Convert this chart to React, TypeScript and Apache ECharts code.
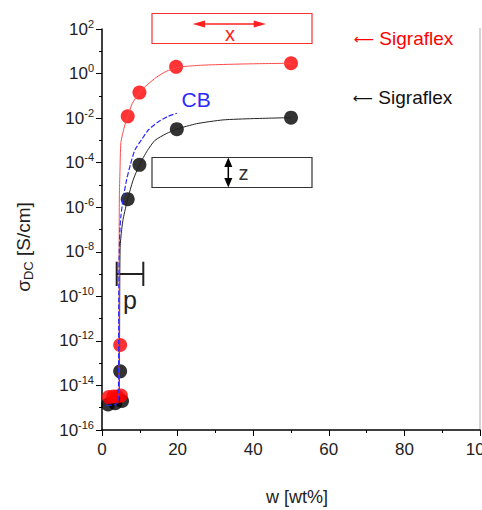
import React, { useEffect, useRef } from 'react';
import * as echarts from 'echarts';

const FONT = "'Liberation Sans', Arial, Helvetica, sans-serif";

// x-axis ticks (wt%)
const xTicks = [0, 20, 40, 60, 80, 100];
// y-axis range (S/cm)
const yMin = 1e-16;
const yMax = 1e2;

// measured points
const blackPoints: [number, number][] = [
  [1.6, 1.4e-15], [3.5, 1.6e-15], [5.3, 2.0e-15], [4.8, 4.3e-14],
  [6.8, 2.3e-6], [9.9, 8e-5], [19.8, 3.2e-3], [50, 1.05e-2],
];
const redPoints: [number, number][] = [
  [1.8, 3e-15], [3.0, 3.2e-15], [4.0, 3.2e-15], [5.0, 3.5e-15], [4.8, 6.5e-13],
  [6.8, 1.2e-2], [9.9, 0.14], [19.6, 2.0], [50, 2.9],
];

// fitted curves
const redFit: [number, number][] = [
  [4.5, 3.2e-15], [4.52, 1e-10], [4.55, 1e-7], [4.6, 3.2e-6], [4.75, 4e-5], [5.0, 8e-4],
  [5.9, 4e-3], [6.8, 1.2e-2], [8.0, 4.5e-2], [9.9, 0.14], [12, 0.32], [14.5, 0.7],
  [17, 1.26], [20, 1.9], [25, 2.3], [30, 2.5], [40, 2.75], [50, 2.9],
];
const blueFit: [number, number][] = [
  [1.2, 1.26e-15], [3.5, 1.4e-15], [4.2, 1.8e-15], [4.35, 6.3e-15], [4.4, 1e-12],
  [4.45, 3.2e-10], [4.55, 1e-8], [4.75, 1e-7], [5.0, 4e-7], [5.6, 2.5e-6], [6.5, 1.7e-5],
  [7.5, 8e-5], [8.7, 3.7e-4], [10.5, 1.1e-3], [12.3, 3e-3], [15, 7e-3], [17.5, 1.2e-2],
  [19.8, 1.65e-2],
];
const blackFit: [number, number][] = [
  [4.6, 1.6e-15], [4.65, 1e-12], [4.7, 3.2e-10], [4.8, 1.6e-8], [5.2, 1e-7], [5.63, 3.2e-7],
  [6.8, 2.3e-6], [8.2, 1.6e-5], [9.9, 8e-5], [12, 3.5e-4], [14, 1e-3], [17, 2e-3],
  [19.8, 3.2e-3], [25, 5.6e-3], [32, 8.3e-3], [40, 9.5e-3], [50, 1.05e-2],
];

const labelRich = {
  b: { fontSize: 17, color: '#222', fontFamily: FONT, lineHeight: 22 },
  s: { fontSize: 11, color: '#222', fontFamily: FONT, verticalAlign: 'top', lineHeight: 11 },
};

const arrowRich = (color: string) => ({
  ar: { fontSize: 14, fontFamily: "'DejaVu Sans', sans-serif", fill: color, lineHeight: 24 },
  t: { fontSize: 19, fontFamily: FONT, fill: color, lineHeight: 24 },
});

export default function App() {
  const ref = useRef<HTMLDivElement>(null);
  useEffect(() => {
    document.body.style.margin = '0';
    const chart = echarts.init(ref.current!, null, { renderer: 'svg' });
    const option: any = {
      animation: false,
      backgroundColor: '#fff',
      grid: { left: 102, right: 2, top: 29, bottom: 80, containLabel: false, outerBoundsMode: 'none' },
      xAxis: {
        type: 'value',
        min: xTicks[0],
        max: xTicks[xTicks.length - 1],
        interval: 20,
        axisLine: { show: true, lineStyle: { color: '#000', width: 1.5 } },
        axisTick: { show: true, length: 6, lineStyle: { color: '#000', width: 1 } },
        minorTick: { show: true, splitNumber: 2, length: 3, lineStyle: { color: '#000', width: 1 } },
        splitLine: { show: false },
        axisLabel: { fontSize: 17, color: '#222', fontFamily: FONT, margin: 11, hideOverlap: false },
      },
      yAxis: [
        {
          type: 'log',
          logBase: 10,
          min: yMin,
          max: yMax,
          interval: 2,
          position: 'left',
          axisLine: { show: true, lineStyle: { color: '#000', width: 1.5 } },
          axisTick: { show: true, length: 6, lineStyle: { color: '#000', width: 1 } },
          splitLine: { show: false },
          axisLabel: {
            margin: 8,
            formatter: (v: number) => `{b|10}{s|${Math.round(Math.log10(v))}}`,
            rich: labelRich,
          },
        },
        {
          type: 'log',
          logBase: 10,
          min: yMin,
          max: yMax,
          interval: 1,
          position: 'left',
          axisLine: { show: false },
          axisTick: { show: true, length: 3, lineStyle: { color: '#000', width: 1 } },
          axisLabel: { show: false },
          splitLine: { show: false },
        },
      ],
      series: [
        { type: 'scatter', data: blackPoints, symbolSize: 14, itemStyle: { color: '#000' } },
        { type: 'scatter', data: redPoints, symbolSize: 14, itemStyle: { color: '#ff0000' } },
        { type: 'line', data: blackFit, showSymbol: false, smooth: 0.2, lineStyle: { color: '#222', width: 1 } },
        { type: 'line', data: redFit, showSymbol: false, smooth: 0.2, lineStyle: { color: '#ff4a4a', width: 1 } },
        { type: 'line', data: blueFit, showSymbol: false, smooth: 0.2, lineStyle: { color: '#2a2aff', width: 1.2, type: [5, 2] } },
      ],
      graphic: [
        // right frame line
        { type: 'line', shape: { x1: 480, y1: 28, x2: 480, y2: 430 }, style: { stroke: '#aaa', lineWidth: 1 } },
        // axis titles
        {
          type: 'text', x: 297, y: 497,
          style: { text: 'w [wt%]', font: `18px ${FONT}`, fill: '#222', align: 'center', verticalAlign: 'middle' },
        },
        {
          type: 'text', x: 23, y: 247, rotation: Math.PI / 2,
          style: {
            text: '{a|σ}{d|DC}{a| [S/cm]}', align: 'center', verticalAlign: 'middle',
            rich: {
              a: { fontSize: 19, fontFamily: FONT, fill: '#222', lineHeight: 24 },
              d: { fontSize: 13, fontFamily: FONT, fill: '#222', verticalAlign: 'bottom', lineHeight: 13 },
            },
          },
        },
        // red x box
        { type: 'rect', shape: { x: 152, y: 13.5, width: 160, height: 30 }, style: { stroke: '#ff3030', fill: 'none', lineWidth: 1.2 } },
        { type: 'line', shape: { x1: 202, y1: 24, x2: 257, y2: 24 }, style: { stroke: '#ff2020', lineWidth: 1.5 } },
        { type: 'polygon', shape: { points: [[192.7, 24], [205, 20.5], [205, 27.5]] }, style: { fill: '#ff2020' } },
        { type: 'polygon', shape: { points: [[266, 24], [253.7, 20.5], [253.7, 27.5]] }, style: { fill: '#ff2020' } },
        {
          type: 'text', x: 230, y: 34,
          style: { text: 'x', font: `20px ${FONT}`, fill: '#ff2020', align: 'center', verticalAlign: 'middle' },
        },
        // black z box
        { type: 'rect', shape: { x: 152, y: 157.5, width: 160, height: 30 }, style: { stroke: '#333', fill: 'none', lineWidth: 1.2 } },
        { type: 'line', shape: { x1: 228.3, y1: 165, x2: 228.3, y2: 180 }, style: { stroke: '#000', lineWidth: 1.5 } },
        { type: 'polygon', shape: { points: [[228.3, 157.5], [224.3, 167], [232.3, 167]] }, style: { fill: '#000' } },
        { type: 'polygon', shape: { points: [[228.3, 187.5], [224.3, 178], [232.3, 178]] }, style: { fill: '#000' } },
        {
          type: 'text', x: 243.5, y: 173,
          style: { text: 'z', font: `20px ${FONT}`, fill: '#333', align: 'center', verticalAlign: 'middle' },
        },
        // CB label
        {
          type: 'text', x: 181.5, y: 99.5,
          style: { text: 'CB', font: `21px ${FONT}`, fill: '#2a2aff', align: 'left', verticalAlign: 'middle' },
        },
        // Sigraflex labels
        {
          type: 'text', x: 354, y: 38.5,
          style: { text: '{ar|⟵}{t| Sigraflex}', rich: arrowRich('#ff0000'), align: 'left', verticalAlign: 'middle' },
        },
        {
          type: 'text', x: 353, y: 97.5,
          style: { text: '{ar|⟵}{t| Sigraflex}', rich: arrowRich('#111'), align: 'left', verticalAlign: 'middle' },
        },
        // p marker
        { type: 'line', shape: { x1: 116.7, y1: 274, x2: 143.3, y2: 274 }, style: { stroke: '#222', lineWidth: 2 } },
        { type: 'line', shape: { x1: 116.7, y1: 261.7, x2: 116.7, y2: 286 }, style: { stroke: '#222', lineWidth: 2 } },
        { type: 'line', shape: { x1: 143.3, y1: 261.7, x2: 143.3, y2: 286 }, style: { stroke: '#222', lineWidth: 2 } },
        {
          type: 'text', x: 130, y: 300,
          style: { text: 'p', font: `25px ${FONT}`, fill: '#222', align: 'center', verticalAlign: 'middle' },
        },
      ],
    };
    chart.setOption(option);
    return () => chart.dispose();
  }, []);
  return <div ref={ref} style={{ width: 482, height: 510 }} />;
}
